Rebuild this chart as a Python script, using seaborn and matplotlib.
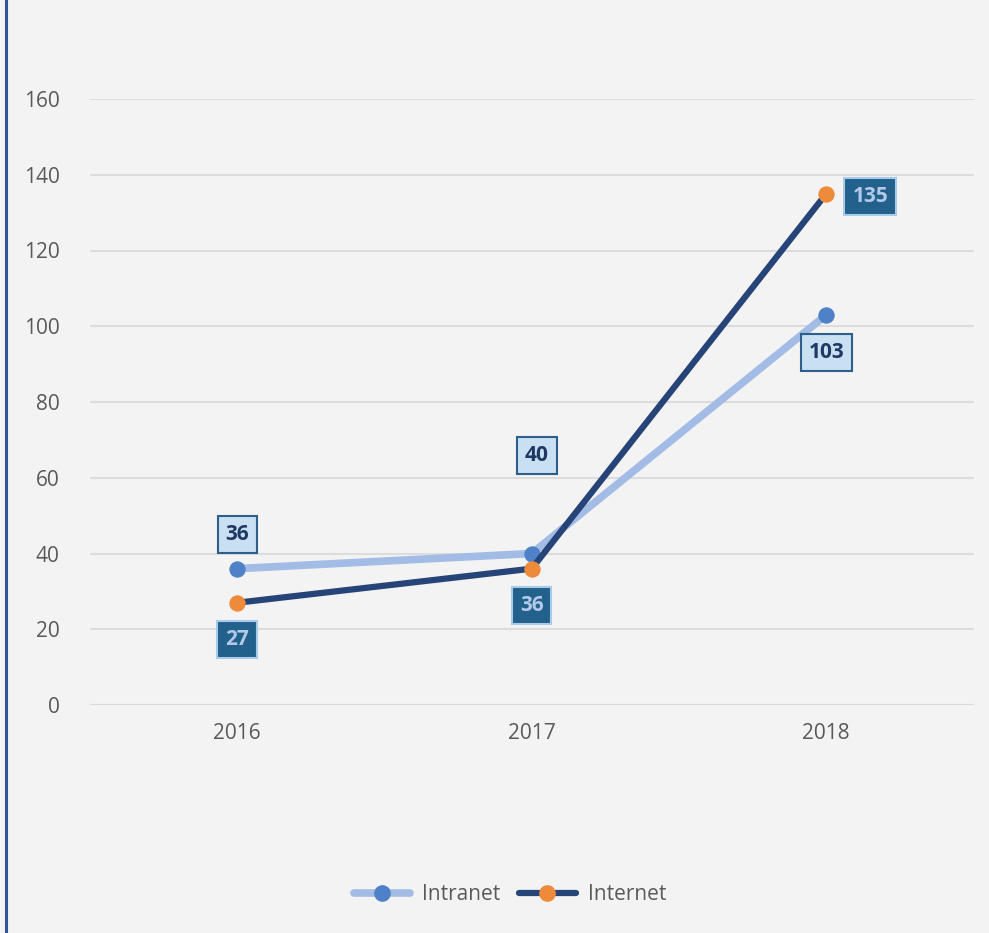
import matplotlib
matplotlib.use("Agg")
import matplotlib.pyplot as plt
import seaborn as sns
import pandas as pd
from matplotlib.lines import Line2D

years = ["2016", "2017", "2018"]
intranet = [36, 40, 103]
internet = [27, 36, 135]
yticks = [0, 20, 40, 60, 80, 100, 120, 140, 160]

sns.set_theme(style="white")
plt.rcParams['font.family'] = ['Open Sans', 'DejaVu Sans']

bg = "#f3f3f3"
fig = plt.figure(figsize=(9.89, 9.33), dpi=100, facecolor=bg)
ax = fig.add_axes([90/989, (933-705)/933, (973.5-90)/989, (705-99)/933])
ax.set_facecolor(bg)

df = pd.DataFrame({"pos": list(range(len(years))) * 2,
                   "value": intranet + internet,
                   "series": ["Intranet"] * 3 + ["Internet"] * 3})

line_cols = {"Intranet": "#a2bce6", "Internet": "#264478"}
mark_cols = {"Intranet": "#4f81c9", "Internet": "#ed8b3a"}
lws = {"Intranet": 5.5, "Internet": 4.5}

for name, z in [("Intranet", 3), ("Internet", 4)]:
    sub = df[df.series == name]
    sns.lineplot(data=sub, x="pos", y="value", ax=ax, color=line_cols[name],
                 lw=lws[name], marker="o", markersize=11, markerfacecolor=mark_cols[name],
                 markeredgecolor=mark_cols[name], zorder=z, legend=False)

ax.set_xlim(-0.5, 2.5)
ax.set_ylim(0, 160)
ax.set_yticks(yticks)
ax.set_xticks(range(len(years)))
ax.set_xticklabels(years)
ax.set_xlabel("")
ax.set_ylabel("")
ax.grid(axis="y", color="#dcdcdc", lw=1.5, zorder=0)
ax.set_axisbelow(True)
for s in ax.spines.values():
    s.set_visible(False)
ax.tick_params(axis="both", length=0, labelsize=15, labelcolor="#595959")
ax.tick_params(axis="y", pad=22)
ax.tick_params(axis="x", pad=13)
ax.axhline(0, color="#d9d9d9", lw=1.5, zorder=1)

# data labels
intra_off = [(0, 34), (5, 98), (0, -38)]
inter_off = [(0, -37), (0, -37), (44, -3)]
for i, v in enumerate(intranet):
    ax.annotate(str(v), (i, v), xytext=intra_off[i], textcoords="offset pixels",
                ha="center", va="center", fontsize=15, fontweight="bold", color="#1f3864",
                bbox=dict(boxstyle="square,pad=0.38", fc="#c9dff2", ec="#2e5f8a", lw=1.5),
                zorder=6)
for i, v in enumerate(internet):
    ax.annotate(str(v), (i, v), xytext=inter_off[i], textcoords="offset pixels",
                ha="center", va="center", fontsize=15, fontweight="bold", color="#b4c9e8",
                bbox=dict(boxstyle="square,pad=0.38", fc="#22618c", ec="#a9cbea", lw=1.5),
                zorder=6)

handles = [Line2D([], [], color=line_cols[n], lw=lws[n], marker="o", markersize=11,
                  markerfacecolor=mark_cols[n], markeredgecolor=mark_cols[n],
                  solid_capstyle="round") for n in ["Intranet", "Internet"]]
leg = fig.legend(handles, ["Intranet", "Internet"], loc="center",
                 bbox_to_anchor=(510/989, (933-895)/933), ncol=2, frameon=False,
                 fontsize=15, handlelength=2.7, columnspacing=0.9, handletextpad=0.6)
for t in leg.get_texts():
    t.set_color("#595959")

fig.add_artist(Line2D([6/989, 6/989], [0, 1], transform=fig.transFigure,
                      color="#2f5597", lw=2.2))

fig.savefig("out.png", dpi=100, facecolor=bg)
